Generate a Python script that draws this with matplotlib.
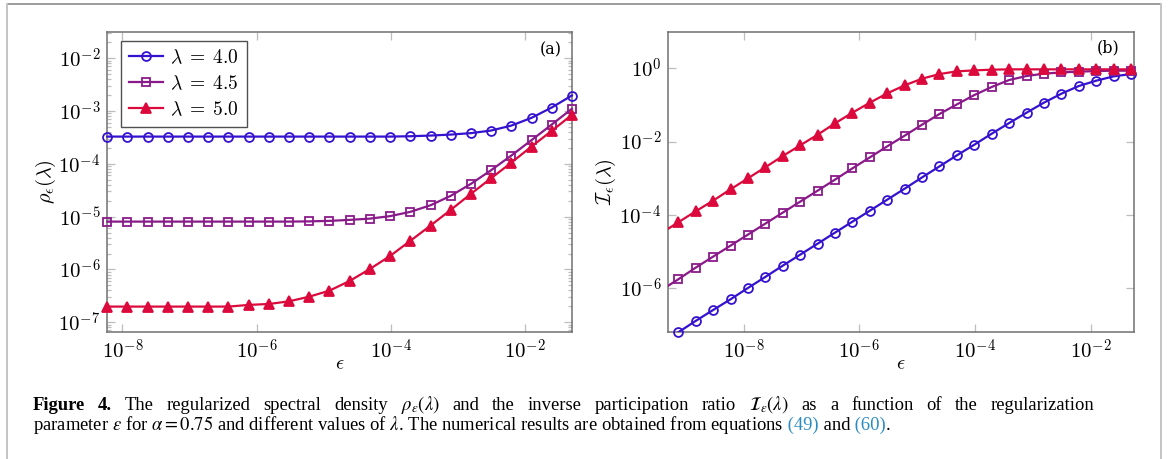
import matplotlib
matplotlib.use("Agg")
import numpy as np
import matplotlib.pyplot as plt
from matplotlib.ticker import FixedLocator, FuncFormatter, LogLocator, NullLocator, NullFormatter
from matplotlib.lines import Line2D

plt.rcParams['mathtext.fontset'] = 'cm'
plt.rcParams['font.family'] = ['Liberation Serif', 'DejaVu Serif']

# panel (a): regularized spectral density
eps_a = [5.96e-9, 1.19e-8, 2.38e-8, 4.77e-8, 9.54e-8, 1.91e-7, 3.81e-7, 7.63e-7,
         1.53e-6, 3.05e-6, 6.10e-6, 1.22e-5, 2.44e-5, 4.88e-5, 9.77e-5, 1.95e-4,
         3.91e-4, 7.81e-4, 1.56e-3, 3.13e-3, 6.25e-3, 1.25e-2, 2.5e-2, 5.0e-2]
rho_40 = [3.27e-4] * 15 + [3.32e-4, 3.42e-4, 3.57e-4, 3.80e-4, 4.26e-4,
                           5.28e-4, 7.40e-4, 1.16e-3, 1.96e-3]
rho_45 = [8.04e-6] * 10 + [8.13e-6, 8.30e-6, 8.67e-6, 9.16e-6, 1.02e-5, 1.23e-5,
                           1.64e-5, 2.47e-5, 4.16e-5, 7.57e-5, 1.43e-4, 2.80e-4,
                           5.52e-4, 1.10e-3]
rho_50 = [1.98e-7] * 7 + [2.13e-7, 2.22e-7, 2.49e-7, 3.05e-7, 3.97e-7, 6.05e-7,
                          1.02e-6, 1.80e-6, 3.47e-6, 6.76e-6, 1.34e-5, 2.69e-5,
                          5.33e-5, 1.05e-4, 2.12e-4, 4.20e-4, 8.43e-4]

# panel (b): inverse participation ratio (first point lies left of the axis)
eps_b = [3.73e-10, 7.45e-10, 1.49e-9, 2.98e-9] + eps_a
ipr_40 = [3.16e-8, 6.31e-8, 1.29e-7, 2.56e-7, 5.01e-7, 1.02e-6, 2.04e-6, 4.15e-6,
          8.28e-6, 1.65e-5, 3.30e-5, 6.58e-5, 1.31e-4, 2.62e-4, 5.22e-4, 1.06e-3,
          2.12e-3, 4.24e-3, 8.28e-3, 1.65e-2, 3.23e-2, 6.18e-2, 0.116, 0.204,
          0.330, 0.461, 0.605, 0.700]
ipr_45 = [8.81e-7, 1.76e-6, 3.66e-6, 7.31e-6, 1.46e-5, 2.91e-5, 5.81e-5, 1.16e-4,
          2.31e-4, 4.61e-4, 9.20e-4, 1.87e-3, 3.74e-3, 7.46e-3, 1.46e-2, 2.91e-2,
          5.69e-2, 0.104, 0.187, 0.310, 0.481, 0.618, 0.716, 0.778, 0.811, 0.845,
          0.863, 0.863]
ipr_50 = [3.16e-5, 6.31e-5, 1.26e-4, 2.46e-4, 5.01e-4, 1.00e-3, 2.00e-3, 4.06e-3,
          7.94e-3, 1.55e-2, 3.16e-2, 6.18e-2, 0.116, 0.208, 0.344, 0.523, 0.700,
          0.828, 0.881, 0.920] + [0.940] * 8

labels = [r"$\lambda\;=\;4.0$", r"$\lambda\;=\;4.5$", r"$\lambda\;=\;5.0$"]
colors = ['#3512CF', '#8A1A8A', '#DC0A3C']
markers = ['o', 's', '^']
msizes = [6.4, 6.2, 7.6]

W, H = 1170, 459
fig = plt.figure(figsize=(W / 100, H / 100), dpi=100)


def px_box(l, t, r, b):
    return [l / W, 1 - b / H, (r - l) / W, (b - t) / H]


def mark_style(i):
    face = colors[i] if markers[i] == '^' else 'none'
    return dict(color=colors[i], marker=markers[i], ms=msizes[i], mfc=face,
                mec=colors[i], mew=1.3)


def decade(v, pos):
    return r"$10^{%d}$" % int(round(np.log10(v)))


def style_axes(ax):
    ax.set_xscale('log')
    ax.set_yscale('log')
    for sp in ax.spines.values():
        sp.set_color('#707070')
        sp.set_linewidth(1.1)
        sp.set_zorder(2.5)
    ax.tick_params(which='both', direction='in', top=True, right=True,
                   color='#bdbdbd', width=0.9, labelsize=15, pad=5)
    ax.tick_params(which='major', length=5.5)
    ax.tick_params(which='minor', length=3.2)
    ax.xaxis.set_major_locator(FixedLocator([1e-8, 1e-6, 1e-4, 1e-2]))
    ax.xaxis.set_minor_locator(NullLocator())
    ax.xaxis.set_major_formatter(FuncFormatter(decade))
    ax.yaxis.set_major_formatter(FuncFormatter(decade))
    ax.yaxis.set_minor_formatter(NullFormatter())
    ax.set_xlabel(r"$\epsilon$", fontsize=14.5)
    ax.xaxis.set_label_coords(0.5, -0.109)
    ax.xaxis.label.set_verticalalignment('center')


# ---- panel (a)
ax1 = fig.add_axes(px_box(107.3, 31.7, 571.9, 332.3))
for i, vals in enumerate([rho_40, rho_45, rho_50]):
    ax1.plot(eps_a, vals, lw=1.6, label=labels[i], clip_on=False, zorder=3,
             **mark_style(i))
style_axes(ax1)
ax1.set_xlim(eps_a[0], eps_a[-1])
ax1.set_ylim(10 ** -7.19, 10 ** -1.5)
ax1.yaxis.set_major_locator(LogLocator(base=10, numticks=20))
ax1.yaxis.set_minor_locator(LogLocator(base=10, subs=np.arange(2, 10), numticks=20))
ax1.set_ylabel(r"$\rho_\epsilon(\lambda)$", fontsize=14.5)
ax1.yaxis.set_label_coords(-0.1326, 0.5)
ax1.yaxis.label.set_verticalalignment('center')
ax1.text(0.955, 0.94, "(a)", transform=ax1.transAxes, ha='center', va='center',
         fontsize=11.5, family='DejaVu Serif', math_fontfamily='cm')
leg = ax1.legend(loc='upper left', bbox_to_anchor=(14 / 464.6, 1 - 9 / 300.6),
                 borderaxespad=0, fontsize=14, frameon=True, fancybox=False,
                 edgecolor='#505050', framealpha=1, handlelength=1.75,
                 handletextpad=0.35, labelspacing=0.38, borderpad=0.4,
                 numpoints=1)
leg.get_frame().set_linewidth(1.0)

# ---- panel (b)
ax2 = fig.add_axes(px_box(668.3, 31.7, 1134, 332.3))
for i, vals in enumerate([ipr_40, ipr_45, ipr_50]):
    ax2.plot(eps_b, vals, color=colors[i], lw=1.6, zorder=3)
    ax2.plot(eps_b[1:], vals[1:], ls='none', clip_on=False, zorder=4,
             **mark_style(i))
style_axes(ax2)
ax2.set_xlim(10 ** -9.3, 10 ** -1.25)
ax2.set_ylim(10 ** -7.2, 10 ** 1.0)
ax2.yaxis.set_major_locator(FixedLocator([1e-6, 1e-4, 1e-2, 1e0]))
ax2.yaxis.set_minor_locator(NullLocator())
ax2.set_ylabel(r"$\mathcal{I}_\epsilon(\lambda)$", fontsize=14.5)
ax2.yaxis.set_label_coords(-0.134, 0.5)
ax2.yaxis.label.set_verticalalignment('center')
ax2.text(0.945, 0.945, "(b)", transform=ax2.transAxes, ha='center', va='center',
         fontsize=11.5, family='DejaVu Serif', math_fontfamily='cm')

# ---- page frame
def frame_line(x0, y0, x1, y1, c):
    fig.add_artist(Line2D([x0 / W, x1 / W], [1 - y0 / H, 1 - y1 / H],
                          transform=fig.transFigure, color=c, lw=1.4))


frame_line(7.3, 4.3, 1161, 4.3, '#9c9c9c')
frame_line(7.3, 4.3, 7.3, 459, '#c4c4c4')
frame_line(1161, 4.3, 1161, 459, '#c4c4c4')

# ---- caption
cap_fs = 13.4
link = '#2B8CC4'
renderer = fig.canvas.get_renderer()


def cap_text(x, y, txt, **kw):
    return fig.text(x / W, 1 - y / H, txt, ha='left', va='baseline',
                    fontsize=cap_fs, math_fontfamily='stix', **kw)


def justified_line(words, x0, x1, y):
    # first line of the caption is set full width, like the journal does
    arts = [cap_text(0, y, w, **kw) for w, kw in words]
    widths = [a.get_window_extent(renderer).width for a in arts]
    gap = (x1 - x0 - sum(widths)) / (len(arts) - 1)
    x = x0
    for a, w in zip(arts, widths):
        a.set_x(x / W)
        x += w + gap


def caption_line(pieces, x, y):
    for txt, kw in pieces:
        t = cap_text(x, y, txt, **kw)
        x = t.get_window_extent(renderer).x1


bold = dict(weight='bold')
line1 = [("Figure", bold), ("4.", bold)] + [
    (w, {}) for w in ("The regularized spectral density $\\rho_\\epsilon(\\lambda)$ "
                      "and the inverse participation ratio "
                      "$\\mathcal{I}_\\epsilon(\\lambda)$ as a function of the "
                      "regularization").split()]
line2 = [("parameter $\\epsilon$ for $\\alpha = 0.75$ and different values of "
          "$\\lambda$. The numerical results are obtained from equations", {}),
         (" (49)", dict(color=link)),
         (" and", {}),
         (" (60)", dict(color=link)),
         (".", {})]
justified_line(line1, 33, 1094, 409.5)
caption_line(line2, 33, 430.0)

fig.savefig("out.png", dpi=100)
